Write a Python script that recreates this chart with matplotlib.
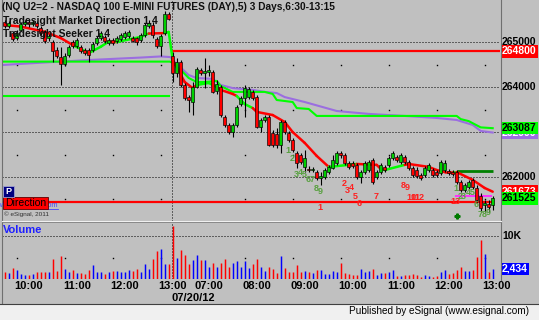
import matplotlib
matplotlib.use("Agg")
import matplotlib.pyplot as plt
from matplotlib.collections import LineCollection
from matplotlib.patches import Rectangle
from matplotlib.lines import Line2D
import matplotlib.transforms as mtransforms

plt.rcParams['font.family'] = ['Liberation Sans', 'DejaVu Sans']

# ---------------- data (5-minute bars, prices x100) ----------------
opens = [265450, 265365, 265205, 265095, 265275, 265410, 265450, 265410, 265430, 265320,
         265230, 265095, 265005, 264830, 264675, 264515, 264715, 265005, 264920, 264895,
         264830, 264830, 264830, 264985, 265095, 265120, 264985, 265050, 265030, 265075,
         265120, 265140, 265095, 265095, 265050, 265165, 265365, 265385, 265075, 264920,
         265205, 265630,
         264695, 264315, 264560, 264050, 263780, 263670, 264005, 264385, 264315, 264340,
         264340, 263915, 264005, 263335, 263160, 263000, 263160, 263625, 263760, 263780,
         263895, 263780, 263115, 263270, 263335, 262980, 262960, 262715, 263225, 262980,
         262825, 262535, 262490, 262225, 262180, 262155, 262110, 261980, 262000, 262110,
         262200, 262310, 262535, 262490, 262310, 262310, 262270, 262000, 262110, 262155,
         262380, 262000, 262110, 262225, 262270, 262425, 262445, 262335, 262445, 262335,
         262200, 262155, 262045, 262045, 262155, 262155, 262110, 262090, 262155, 262135,
         262110, 262110, 261890, 261710, 261775, 261935, 261755, 261575, 261375, 261400,
         261375]
closes = [265365, 265430, 265075, 265205, 265410, 265450, 265410, 265450, 265365, 265205,
          265030, 265140, 264805, 264695, 264515, 264695, 264895, 264920, 265050, 264805,
          264760, 264715, 264960, 265095, 265205, 265030, 265050, 264985, 265095, 265165,
          265205, 265230, 265030, 265005, 265165, 265385, 265430, 265165, 264920, 265140,
          265630, 265520,
          264315, 264560, 264050, 263760, 263715, 264005, 264405, 264315, 264360, 264385,
          263895, 264070, 263380, 263160, 263000, 263160, 263560, 263760, 263980, 263960,
          263760, 263115, 263270, 263335, 262715, 262715, 262715, 263225, 263000, 262825,
          262600, 262310, 262335, 262425, 262155, 262180, 261980, 262020, 262155, 262225,
          262380, 262535, 262490, 262310, 262225, 262245, 262000, 262110, 262310, 262335,
          261890, 262110, 262270, 262155, 262425, 262535, 262380, 262490, 262335, 262200,
          262045, 262020, 261980, 262200, 262270, 262045, 262045, 262335, 262310, 262090,
          262065, 261890, 261710, 261820, 261890, 261775, 261490, 261310, 261420, 261330,
          261525]
highs = [265495, 265475, 265250, 265275, 265450, 265495, 265520, 265495, 265475, 265365,
         265275, 265185, 265050, 264895, 264895, 264760, 264940, 265050, 265095, 264940,
         264875, 264875, 265005, 265140, 265250, 265165, 265095, 265095, 265140, 265205,
         265250, 265275, 265140, 265120, 265205, 265430, 265495, 265450, 265120, 265185,
         265695, 265675,
         264785, 264650, 264605, 264095, 263825, 264115, 264450, 264430, 264650, 264495,
         264385, 264160, 264050, 263380, 263205, 263205, 263605, 263805, 264050, 264005,
         263940, 263825, 263315, 263380, 263380, 263045, 263090, 263270, 263270, 263025,
         262870, 262580, 262535, 262600, 262245, 262225, 262155, 262110, 262200, 262270,
         262490, 262580, 262580, 262535, 262355, 262355, 262310, 262155, 262355, 262380,
         262425, 262155, 262310, 262270, 262470, 262580, 262490, 262535, 262490, 262380,
         262245, 262225, 262090, 262245, 262310, 262200, 262155, 262380, 262380, 262180,
         262155, 262155, 261935, 261865, 261935, 261980, 261820, 261645, 261490, 261490,
         261575]
lows = [265320, 265320, 265030, 265050, 265250, 265365, 265340, 265365, 265320, 265165,
        264985, 265030, 264560, 264650, 264050, 264470, 264675, 264875, 264875, 264760,
        264715, 264560, 264785, 264940, 265050, 264985, 264940, 264940, 264985, 265030,
        265075, 265095, 265005, 264940, 265005, 265120, 265320, 265095, 264875, 264695,
        265165, 265495,
        264115, 264225, 264005, 263715, 263450, 263380, 263980, 264270, 263980, 264250,
        263870, 263850, 263335, 263115, 262960, 262890, 263115, 263580, 263335, 263735,
        263715, 263090, 263000, 263225, 262690, 262670, 262645, 262535, 262960, 262780,
        262555, 262200, 262290, 262110, 262110, 262110, 261935, 261820, 261955, 262065,
        262180, 262270, 262425, 262270, 262180, 262200, 261955, 261865, 262065, 262110,
        261845, 261955, 262065, 262110, 262225, 262380, 262335, 262290, 262290, 262155,
        262000, 261980, 261935, 262000, 262110, 262000, 262000, 262045, 262110, 262045,
        262020, 261845, 261665, 261665, 261735, 261735, 261420, 261220, 261220, 261220,
        261265]
volumes = [1790, 1400, 2560, 2160, 1230, 1000, 1000, 1160, 1630, 1790,
           1790, 1790, 4650, 2020, 5420, 2400, 1790, 2160, 1400, 1400,
           1230, 2160, 3190, 1790, 1630, 1160, 1630, 1930, 1930, 1790,
           1790, 2160, 2020, 2400, 1790, 3560, 2400, 4650, 6440, 7050,
           3560, 3560,
           12400, 4950, 6820, 5650, 3560, 4350, 5510, 4350, 4350, 2790,
           3720, 2950, 3720, 4720, 2950, 3720, 4120, 2950, 4120, 2560,
           3560, 4650, 2950, 2020, 2790, 2490, 1470, 5350, 2720, 1700,
           1700, 3260, 1700, 1930, 1700, 1470, 2090, 2090, 1160, 1330,
           1930, 1700, 3650, 1470, 1330, 930, 930, 2490, 1700, 1930,
           2490, 930, 1470, 1470, 1700, 2090, 700, 770, 930, 930,
           1330, 930, 535, 930, 700, 535, 700, 1700, 2260, 1330,
           1470, 2090, 2860, 1930, 1930, 2090, 5050, 9070, 5750, 1700,
           2434]

tick_pos = [6, 18, 30, 42, 51, 63, 75, 87, 99, 111, 123]
tick_labels = ['10:00', '11:00', '12:00', '13:00', '07:00', '08:00',
               '09:00', '10:00', '11:00', '12:00', '13:00']
date_label = '07/20/12'
session_break = 41.75
hour_dots = [3, 15, 27, 39, 60, 72, 84, 96, 108, 120]
half_levels = [264500, 263500, 262500, 261500]
grid_levels = [265000, 264000, 263000, 262000]
grid_labels = ['265000', '264000', '263000', '262000']

# Market Direction line (knots) and segment colours (r = down, g = up)
md_k = [0, 4, 10, 14, 17, 21, 24, 26, 28, 34, 36, 40, 41,
        42, 45, 47, 48, 51, 53, 54, 57, 58, 60, 62, 63, 67, 70, 72, 75, 78, 81, 86, 88,
        93, 94, 95, 100, 101, 106, 108, 110, 112, 113, 117, 120, 122]
md_p = [265385, 265350, 265235, 265095, 264940, 264760, 264900, 265015, 265005, 265120,
        265195, 265205, 265230,
        264605, 264115, 263980, 264050, 264095, 264005, 263940, 263850, 263805, 263625,
        263535, 263450, 263380, 263225, 263000, 262760, 262470, 262225, 262270, 262290,
        262270, 262180, 262155, 262270, 262290, 262225, 262155, 262110, 262110, 262110,
        261935, 261755, 261673]
md_seg = "rrrrgggrggrgg" + "rrrggrrrggrrrrrrrggrrggrrrrrgrrr"

# slower green average
sg_k = [-0.5, 41.3, 42, 44, 46, 48, 50, 53, 54, 57, 65, 67, 68, 72, 73, 76, 78,
        113, 114, 116, 119, 122]
sg_p = [264570, 264570, 264540, 264385, 264205, 264115, 264115, 264140, 264025, 263895,
        263895, 263850, 263715, 263670, 263535, 263515, 263360, 263360, 263290, 263245,
        263105, 263087]
# purple average
pu_k = [-0.5, 8, 21, 34, 39, 41.5, 42, 46, 48, 52, 54, 57, 62, 65, 68, 70, 75, 83, 91,
        100, 108, 113, 117, 119, 122]
pu_p = [264495, 264540, 264605, 264660, 264685, 264670, 264605, 264270, 264205, 264185,
        264050, 263980, 263940, 263895, 263870, 263780, 263670, 263470, 263405, 263360,
        263315, 263270, 263160, 263025, 262990]

day1_low_level = 263810
top_level = 264800
direction_level = 261450
dkgreen_level = 262140
magenta_level = 261577

seek_g1_k = [70.8, 71.8, 72.8, 73.8, 74.8, 75.8, 76.8, 77.8, 78.8]
seek_g1_p = [262600, 262410, 262065, 262100, 262065, 261935, 261955, 261745, 261675]
seek_g1_t = ['1', '2', '3', '4', '5', '6', '7', '8', '9']
seek_r_k = [78.8, 84.8, 85.7, 86.6, 87.75, 88.65, 92.8, 99.65, 100.75, 101.6, 102.7, 103.8, 112.6]
seek_r_p = [261330, 261865, 261690, 261755, 261575, 261400, 261575, 261800, 261755,
            261535, 261535, 261535, 261445]
seek_r_t = ['1', '2', '3', '4', '5', '6', '7', '8', '9', '10', '11', '12', '13']
seek_g2_k = [112.8, 113.8, 114.7, 115.8, 116.8, 117.8, 118.8, 119.8, 120.8]
seek_g2_p = [261735, 261555, 261555, 261645, 261645, 261390, 261155, 261155, 261210]
seek_g2_t = ['1', '2', '3', '4', '5', '6', '7', '8', '9']
signal_k, signal_p = 113, 261130

last_close = 261525
md_last = 261673
sg_last = 263087
pu_last = 262990
vol_grid = 10000
vol_half = 5000

# ---------------- figure ----------------
W, H = 539, 320
BG = '#c0c0c0'
XMIN, XMAX = -0.675, 123.825
fig = plt.figure(figsize=(W / 100, H / 100), dpi=100, facecolor=BG)


def fx(x):
    return x / W


def fy(y):
    return 1 - y / H


axp = fig.add_axes([fx(2), fy(221), 498 / W, 221 / H])
axv = fig.add_axes([fx(2), fy(279.3), 498 / W, 57.3 / H])
for a in (axp, axv):
    a.set_facecolor(BG)
    for s in a.spines.values():
        s.set_visible(False)
    a.set_xlim(XMIN, XMAX)
    a.set_yticks([])
axp.set_xticks([])
axp.set_ylim(261020, 265942)
axv.set_ylim(0, 13233)

dot = (0, (1, 2))
# grid
axp.hlines(grid_levels, XMIN, XMAX, colors='black', linestyles=dot, lw=0.72, zorder=1)
axv.hlines([vol_grid], XMIN, XMAX, colors='black', linestyles=dot, lw=0.72, zorder=1)
for lv in half_levels:
    axp.plot(hour_dots, [lv] * len(hour_dots), ls='none', marker='s', ms=1.0,
             mec='none', mfc='black', zorder=1)
axv.plot(hour_dots, [vol_half] * len(hour_dots), ls='none', marker='s', ms=1.0,
         mec='none', mfc='black', zorder=1)
axp.axvline(session_break, color='black', ls=dot, lw=0.72, zorder=1)
axv.axvline(session_break, color='black', ls=dot, lw=0.72, zorder=1)

# level lines
axp.hlines(day1_low_level, XMIN, 41.3, colors='#00ff00', lw=1.5, zorder=2)
axp.hlines(top_level, session_break, XMAX, colors='#ff0000', lw=1.6, zorder=2)
axp.hlines(direction_level, XMIN, 122, colors='#ff0000', lw=1.6, zorder=2)
axp.hlines(dkgreen_level, 113, 122, colors='#008000', lw=2.0, zorder=2)
axp.hlines(magenta_level, 112.6, 121.8, colors='#ff30ff', lw=1.4, zorder=2)

# averages
axp.plot(pu_k, pu_p, color='#9b6ee0', lw=1.5, zorder=2)
axp.plot(sg_k, sg_p, color='#00ff00', lw=1.5, zorder=2)
segs = [[(md_k[i], md_p[i]), (md_k[i + 1], md_p[i + 1])] for i in range(len(md_k) - 1)]
cols = ['#ff0000' if c == 'r' else '#00ff00' for c in md_seg]
axp.add_collection(LineCollection(segs, colors=cols, linewidths=1.8, zorder=2,
                                  capstyle='round'))

# candles
n = len(closes)
idx = list(range(n))
up = [c >= o for o, c in zip(opens, closes)]
axp.vlines(idx, lows, highs, colors='black', lw=0.8, zorder=3)
bottoms = [min(o, c) for o, c in zip(opens, closes)]
heights = [max(abs(c - o), 15) for o, c in zip(opens, closes)]
axp.bar(idx, heights, bottom=bottoms, width=0.72,
        color=['#00d000' if u else '#ff0000' for u in up],
        edgecolor='black', linewidth=0.45, zorder=4)

# volume
axv.vlines(idx, 0, volumes, colors=['#0000ff' if u else '#ff0000' for u in up],
           lw=1.05, zorder=3)

# seeker labels
for k, p, t in zip(seek_g1_k, seek_g1_p, seek_g1_t):
    axp.text(k, p, t, color='#58a040', fontsize=6.5, fontweight='bold',
             ha='center', va='center', zorder=6)
for k, p, t in zip(seek_r_k, seek_r_p, seek_r_t):
    axp.text(k, p, t, color='#ff2020', fontsize=6.5, fontweight='bold',
             ha='center', va='center', zorder=6)
for k, p, t in zip(seek_g2_k, seek_g2_p, seek_g2_t):
    axp.text(k, p, t, color='#58a040', fontsize=6.5, fontweight='bold',
             ha='center', va='center', zorder=6)
axp.plot([signal_k], [signal_p], marker='P', ms=3.5, color='#007a00', mec='#007a00',
         zorder=6)

# right-hand scale labels
trp = mtransforms.blended_transform_factory(axp.transAxes, axp.transData)
trv = mtransforms.blended_transform_factory(axv.transAxes, axv.transData)
xr = (502 - 2) / 498
lab = dict(fontsize=7.5, fontweight='bold', ha='left', va='center', clip_on=False)
for lv, t in zip(grid_levels, grid_labels):
    axp.text(xr, lv, t, transform=trp, color='black', zorder=10, **lab)


def box(ax_, tr, val, txt, fc, tc, z):
    ax_.text(xr, val, txt, transform=tr, color=tc, zorder=z,
             bbox=dict(boxstyle='square,pad=0.12', fc=fc, ec='none'), **lab)


box(axp, trp, top_level, f'{top_level}', '#ff0000', 'white', 11)
box(axp, trp, pu_last, f'{pu_last}', '#9b6ee0', 'white', 11)
box(axp, trp, sg_last, f'{sg_last}', '#00ff00', 'black', 12)
box(axp, trp, md_last, f'{md_last}', '#ff0000', 'white', 11)
box(axp, trp, last_close, f'{last_close}', '#00ff00', 'black', 12)
axv.text(xr, vol_grid, '10K', transform=trv, color='black', zorder=10, **lab)
box(axv, trv, volumes[-1], f'{volumes[-1]:,}', '#0000ff', 'white', 11)

# x tick labels
axv.set_xticks(tick_pos)
axv.set_xticklabels(tick_labels, fontsize=8, fontweight='bold', color='black')
axv.tick_params(axis='x', length=0, pad=1.5)
fig.text(fx(172), fy(298), date_label, fontsize=8, fontweight='bold',
         ha='left', va='center')

# titles
fig.text(fx(2), fy(7.5), '(NQ U2=2 - NASDAQ 100 E-MINI FUTURES (DAY),5) 3 Days,6:30-13:15',
         fontsize=7.3, fontweight='bold', color='#101010', ha='left', va='center', zorder=20)
fig.text(fx(3), fy(21), 'Tradesight Market Direction 1,4', fontsize=7.5, fontweight='bold',
         color='#101010', ha='left', va='center', zorder=20)
fig.text(fx(3), fy(34), 'Tradesight Seeker 1,4', fontsize=7.5, fontweight='bold',
         color='#101010', ha='left', va='center', zorder=20)
fig.text(fx(2.5), fy(230), 'Volume', fontsize=8, fontweight='bold', color='#2020ff',
         ha='left', va='center', zorder=20)

# bottom-left boxes
fig.text(fx(58), fy(205.5), 'www.tradesight.com', fontsize=5.3, color='#4444ff',
         ha='right', va='center', zorder=20)
fig.add_artist(Line2D([fx(40), fx(58)], [fy(209), fy(209)], color='#4444ff', lw=0.6,
                      transform=fig.transFigure, zorder=20))
fig.add_artist(Rectangle((fx(2.7), fy(209.3)), 45 / W, 12.6 / H, transform=fig.transFigure,
                         fc='#ff0000', ec='#600000', lw=0.6, zorder=21))
fig.text(fx(25.2), fy(203), 'Direction', fontsize=7.5, color='black', ha='center',
         va='center', zorder=22)
fig.add_artist(Rectangle((fx(3), fy(196.5)), 11 / W, 10.5 / H, transform=fig.transFigure,
                         fc='#000080', ec='#a0a0d0', lw=0.6, zorder=21))
fig.text(fx(8.5), fy(191.3), 'P', fontsize=6.5, fontweight='bold', color='white',
         ha='center', va='center', zorder=22)
fig.text(fx(4), fy(214), '\u00a9 eSignal, 2011', fontsize=4.6, color='#303030',
         ha='left', va='center', zorder=20)

# frame lines
fig.add_artist(Line2D([fx(2), fx(2)], [fy(0), fy(303)], color='#707070', lw=0.8,
                      transform=fig.transFigure))
fig.add_artist(Line2D([fx(500.5), fx(500.5)], [fy(0), fy(280)], color='#707070', lw=0.8,
                      transform=fig.transFigure))
fig.add_artist(Line2D([fx(2), fx(501)], [fy(220.5), fy(220.5)], color='#f0f0f0', lw=0.8,
                      transform=fig.transFigure))
fig.add_artist(Line2D([fx(2), fx(501)], [fy(221.7), fy(221.7)], color='#808080', lw=0.6,
                      transform=fig.transFigure))

# bottom strip
fig.add_artist(Rectangle((0, 0), 1, 16 / H, transform=fig.transFigure, fc='#f0f0f0',
                         ec='none', zorder=0))
fig.add_artist(Line2D([0, 1], [fy(303.8), fy(303.8)], color='#404040', lw=0.8,
                      transform=fig.transFigure))
fig.text(fx(529), fy(311.5), 'Published by eSignal (www.esignal.com)', fontsize=7.2,
         color='black', ha='right', va='center')

fig.savefig('out.png', dpi=100, facecolor=BG)
